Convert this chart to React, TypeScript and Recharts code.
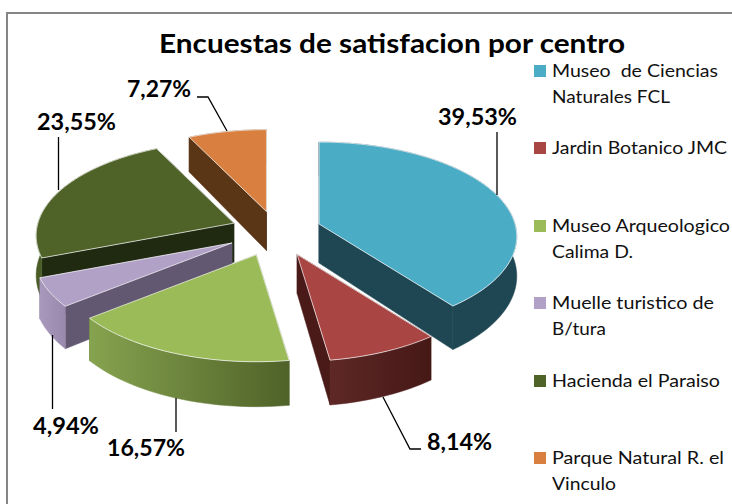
import { PieChart, Pie, Legend } from 'recharts';

const CATEGORIES = [
  'Museo  de Ciencias Naturales FCL',
  'Jardin Botanico JMC',
  'Museo Arqueologico Calima D.',
  'Muelle turistico de B/tura',
  'Hacienda el Paraiso',
  'Parque Natural R. el Vinculo',
];
const VALUES = [39.53, 8.14, 16.57, 4.94, 23.55, 7.27];
const TITLE = 'Encuestas de satisfacion por centro';

const COLORS = ['#4BACC6', '#A94543', '#9BBB59', '#B2A1C7', '#4F6228', '#D98040'];
const WALL_COLORS = ['#1F4653', '#4A1A18', '#4F6228', '#635872', '#1F2A10', '#5A3516'];
const SIDE_FROM = ['#1F4653', '#5E2826', '#86A34F', '#A898BC', '#4A5C26', '#5A3516'];
const SIDE_TO = ['#1F4653', '#451816', '#4F6228', '#9989AC', '#4A5C26', '#5A3516'];

// back to front, so nearer slices cover the ones behind
const DRAW_ORDER = [5, 0, 4, 3, 1, 2];

// 3d look of the pie
const CENTER_X = 276;
const CENTER_Y = 231;
const RADIUS = 196;
const SQUASH = 0.4735;
const PERSPECTIVE = 0.132;
const EXPLODE = 0.242;
const DEPTH = 39;

// data label placement: [x, baseline, width] and the leader line
const LABEL_POS = [
  [438, 125, 79],
  [427, 450, 65],
  [107, 456, 78],
  [33, 434, 66],
  [37, 130, 79],
  [127, 97, 64],
];
const LEADERS = [
  '497,132 497,195',
  '383,397 410,449 421,449',
  '176,398 176,432',
  '52.5,335 52.5,409',
  '58.5,137 58.5,190',
  '197,97 208,97 227,131',
];

// legend placement: square top, first baseline, line widths
const LEGEND_LINES = [
  ['Museo  de Ciencias', 'Naturales FCL'],
  ['Jardin Botanico JMC'],
  ['Museo Arqueologico', 'Calima D.'],
  ['Muelle turistico de', 'B/tura'],
  ['Hacienda el Paraiso'],
  ['Parque Natural R. el', 'Vinculo'],
];
const LEGEND_TOP = [65, 142, 220, 297, 375, 452];
const LEGEND_WIDTHS = [[166, 118], [175], [178, 81], [162, 54], [168], [172, 64]];

const FONT = 'Lato, Carlito, sans-serif';

const data = CATEGORIES.map((name, i) => ({ name, value: VALUES[i] }));

const project = (theta: number) => {
  const rad = (theta * Math.PI) / 180;
  const w = 1 + PERSPECTIVE * Math.cos(rad);
  return {
    x: (RADIUS * Math.sin(rad)) / w,
    y: (-RADIUS * SQUASH * Math.cos(rad)) / w,
    d: DEPTH / w,
  };
};

const toPath = (pts: number[][]) => 'M' + pts.map((p) => p.join(',')).join('L') + 'Z';

const Slice3D = (props: any) => {
  const index = CATEGORIES.indexOf(props.name);
  const t1 = 90 - props.startAngle;
  const t2 = 90 - props.endAngle;
  const mid = project((t1 + t2) / 2);
  const ax = props.cx + EXPLODE * mid.x;
  const ay = props.cy + EXPLODE * mid.y;

  const top: number[][] = [];
  const bottom: number[][] = [];
  const steps = Math.ceil((t2 - t1) / 2);
  for (let s = 0; s <= steps; s++) {
    const p = project(t1 + ((t2 - t1) * s) / steps);
    top.push([ax + p.x, ay + p.y]);
    bottom.push([ax + p.x, ay + p.y + p.d]);
  }
  const first = top[0];
  const last = top[top.length - 1];
  const wall = (pt: number[], b: number[]) =>
    toPath([[ax, ay], pt, b, [ax, ay + DEPTH]]);
  const [lx, ly, lw] = LABEL_POS[index];
  const wallColor = WALL_COLORS[index];

  return (
    <g>
      <defs>
        <linearGradient id={`side-${index}`} x1="0" y1="0" x2="1" y2="0">
          <stop offset="0%" stopColor={SIDE_FROM[index]} />
          <stop offset="100%" stopColor={SIDE_TO[index]} />
        </linearGradient>
      </defs>
      <path d={wall(first, bottom[0])} fill={wallColor} stroke={wallColor} strokeWidth={0.5} />
      <path d={wall(last, bottom[bottom.length - 1])} fill={wallColor} stroke={wallColor} strokeWidth={0.5} />
      <path
        d={toPath([...top, ...[...bottom].reverse()])}
        fill={`url(#side-${index})`}
        stroke={`url(#side-${index})`}
        strokeWidth={0.5}
      />
      <path d={toPath([[ax, ay], ...top])} fill={COLORS[index]} stroke="#fff" strokeOpacity={0.7} strokeWidth={1} />
      <polyline points={LEADERS[index]} fill="none" stroke="#000" strokeWidth={1.3} />
      <text
        x={lx}
        y={ly}
        textLength={lw}
        lengthAdjust="spacingAndGlyphs"
        fontFamily={FONT}
        fontWeight={700}
        fontSize={23}
        fill="#000"
      >
        {VALUES[index].toFixed(2).replace('.', ',')}%
      </text>
    </g>
  );
};

const LegendBlock = () => (
  <svg width={732} height={504} style={{ display: 'block' }}>
    {LEGEND_LINES.map((lines, i) => (
      <g key={i}>
        <rect x={534} y={LEGEND_TOP[i]} width={12} height={12} fill={COLORS[i]} />
        {lines.map((line, j) => (
          <text
            key={j}
            x={552}
            y={LEGEND_TOP[i] + 12 + j * 26}
            textLength={LEGEND_WIDTHS[i][j]}
            lengthAdjust="spacingAndGlyphs"
            fontFamily={FONT}
            fontSize={18}
            fill="#111"
            style={{ whiteSpace: 'pre' }}
          >
            {line}
          </text>
        ))}
      </g>
    ))}
  </svg>
);

export default function App() {
  return (
    <div style={{ position: 'absolute', left: 0, top: 0, width: 732, height: 504, overflow: 'hidden', background: '#fff' }}>
      <div style={{ position: 'absolute', left: 6, top: 12, width: 900, height: 700, border: '2px solid #868686' }} />
      <div style={{ position: 'absolute', left: 0, top: 0 }}>
        <PieChart width={732} height={504} margin={{ top: 0, right: 0, bottom: 0, left: 0 }}>
          <text
            x={159}
            y={53}
            textLength={466}
            lengthAdjust="spacingAndGlyphs"
            fontFamily={FONT}
            fontWeight={700}
            fontSize={27}
            fill="#000"
          >
            {TITLE}
          </text>
          {DRAW_ORDER.map((slice) => (
            <Pie
              key={slice}
              data={data}
              dataKey="value"
              nameKey="name"
              cx={CENTER_X}
              cy={CENTER_Y}
              outerRadius={RADIUS}
              startAngle={90}
              endAngle={-270}
              isAnimationActive={false}
              legendType="none"
              shape={(props: any) => (props.name === CATEGORIES[slice] ? <Slice3D {...props} /> : <g />)}
            />
          ))}
          <Legend
            content={LegendBlock}
            wrapperStyle={{ position: 'absolute', left: 0, top: 0, width: 732, height: 504, pointerEvents: 'none' }}
          />
        </PieChart>
      </div>
    </div>
  );
}
